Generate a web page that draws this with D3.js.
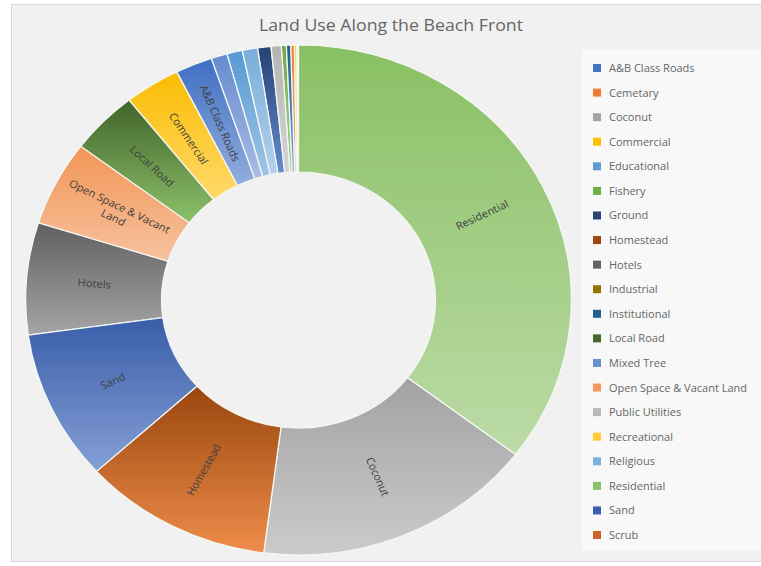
<!DOCTYPE html>
<html>
<head>
<meta charset="utf-8">
<script src="https://cdn.jsdelivr.net/npm/d3@7"></script>
<style>
  html, body { margin: 0; padding: 0; background: #ffffff; }
  svg { display: block; }
</style>
</head>
<body>
<svg id="chart" width="761" height="566"></svg>
<script>
// ---- data (legend order) ----
const categories = [
  "A&B Class Roads", "Cemetary", "Coconut", "Commercial", "Educational",
  "Fishery", "Ground", "Homestead", "Hotels", "Industrial",
  "Institutional", "Local Road", "Mixed Tree", "Open Space & Vacant Land", "Public Utilities",
  "Recreational", "Religious", "Residential", "Sand", "Scrub"
];
const values = [
  2.2, 0.22, 16.7, 3.3, 0.92,
  0.3, 0.8, 11.25, 7.1, 0.04,
  0.25, 4.05, 0.95, 5.4, 0.6,
  0.15, 0.9, 35.4, 9.55, 0.05
];
const colors = [
  "#4472C4", "#ED7D31", "#A5A5A5", "#FFC000", "#5B9BD5",
  "#70AD47", "#264478", "#9E480E", "#636363", "#997300",
  "#255E91", "#43682B", "#698ED0", "#F1975A", "#B7B7B7",
  "#FFCD33", "#7CAFDD", "#8CC168", "#3A5FAD", "#D0652A"
];
const labelled = ["Residential", "Coconut", "Homestead", "Sand", "Hotels",
  "Open Space & Vacant Land", "Local Road", "Commercial", "A&B Class Roads"];
const labelLines = {"Open Space & Vacant Land": ["Open Space & Vacant", "Land"]};
const title = "Land Use Along the Beach Front";

// ---- layout ----
const cx = 298.5, cy = 300, rOuter = 255, rInner = 128, sx = 1.07;
const font = "'Open Sans', 'Noto Sans', sans-serif";

const data = categories.map((c, i) => ({ name: c, value: values[i], color: colors[i], idx: i }));

const svg = d3.select("#chart");
const defs = svg.append("defs");

// chart background
svg.append("rect").attr("x", 11.5).attr("y", 4.5).attr("width", 760).attr("height", 557)
  .attr("fill", "#F1F1F1").attr("stroke", "#D9D9D9");

// title
svg.append("text").attr("x", 391).attr("y", 31).attr("text-anchor", "middle")
  .attr("font-family", font).attr("font-size", 17).attr("fill", "#666666")
  .attr("textLength", 264).attr("lengthAdjust", "spacingAndGlyphs")
  .text(title);

// gradients
data.forEach(d => {
  const base = d3.hsl(d.color);
  const top = base.copy(); top.l = Math.max(0, base.l - 0.01);
  const bot = base.copy(); bot.l = base.l + (1 - base.l) * 0.42;
  const g = defs.append("linearGradient").attr("id", "g" + d.idx)
    .attr("x1", 0).attr("y1", 0).attr("x2", 0).attr("y2", 1);
  g.append("stop").attr("offset", "0%").attr("stop-color", top.formatHex());
  g.append("stop").attr("offset", "100%").attr("stop-color", bot.formatHex());
});

const pie = d3.pie().value(d => d.value).sort((a, b) => b.value - a.value);
const arcs = pie(data);
const arc = d3.arc().innerRadius(rInner).outerRadius(rOuter);

const g = svg.append("g").attr("transform", `translate(${cx},${cy}) scale(${sx},1)`);

g.selectAll("path.slice").data(arcs).join("path")
  .attr("class", "slice")
  .attr("d", arc)
  .attr("fill", d => `url(#g${d.data.idx})`)
  .attr("stroke", "#F4F8F4")
  .attr("stroke-width", 1.2);

// labels
arcs.filter(d => labelled.includes(d.data.name)).forEach(d => {
  const [x, y] = arc.centroid(d);
  const mid = (d.startAngle + d.endAngle) / 2 * 180 / Math.PI;
  const rot = mid < 180 ? mid - 90 : mid - 270;
  const lines = labelLines[d.data.name] || [d.data.name];
  const t = g.append("text")
    .attr("transform", `translate(${x},${y}) rotate(${rot})`)
    .attr("text-anchor", "middle")
    .attr("font-family", font).attr("font-size", 10.5).attr("fill", "#404040");
  lines.forEach((ln, i) => {
    t.append("tspan").attr("x", 0)
      .attr("dy", i === 0 ? (0.35 - (lines.length - 1) * 0.6) + "em" : "1.2em")
      .text(ln);
  });
});

// legend
const lg = svg.append("g");
lg.append("rect").attr("x", 581).attr("y", 49).attr("width", 180).attr("height", 502)
  .attr("fill", "#F8F8F8");
const ly = d3.scalePoint().domain(categories).range([68, 535]);
const items = lg.selectAll("g.item").data(data).join("g").attr("class", "item")
  .attr("transform", d => `translate(0,${ly(d.name)})`);
items.append("rect").attr("x", 593).attr("y", -4).attr("width", 8).attr("height", 8)
  .attr("fill", d => d.color);
items.append("text").attr("x", 609).attr("y", 4)
  .attr("font-family", font).attr("font-size", 11).attr("fill", "#666666")
  .text(d => d.name);
</script>
</body>
</html>
